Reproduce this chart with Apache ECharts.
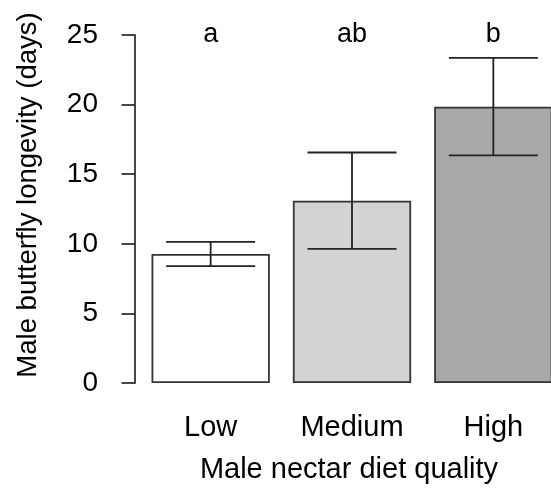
<!DOCTYPE html>
<html>
<head>
<meta charset="utf-8">
<script src="https://cdn.jsdelivr.net/npm/echarts@6/dist/echarts.min.js"></script>
<style>
  html, body { margin: 0; padding: 0; background: #fff; }
  #chart { width: 551px; height: 491px; }
</style>
</head>
<body>
<div id="chart"></div>
<script>
// Diet quality groups and mean male longevity (days) with standard errors
var categories = ['Low', 'Medium', 'High'];
var meanLongevity = [9.27, 13.1, 19.85];
var stdError = [0.87, 3.46, 3.5];
var groupLetters = ['a', 'ab', 'b'];
var yTicks = [0, 5, 10, 15, 20, 25];

var barColors = ['#ffffff', '#d3d3d3', '#a8a8a8'];
var FONT = '"Liberation Sans", Arial, sans-serif';
var yMin = yTicks[0], yMax = yTicks[yTicks.length - 1];

var chart = echarts.init(document.getElementById('chart'), null, { renderer: 'canvas' });

var barData = meanLongevity.map(function (v, i) {
  return { value: v, itemStyle: { color: barColors[i] } };
});
var errData = meanLongevity.map(function (v, i) {
  return [i, v - stdError[i], v + stdError[i]];
});
var letterData = groupLetters.map(function (t, i) {
  return { value: [i, yMax], letter: t };
});

var option = {
  animation: false,
  backgroundColor: '#ffffff',
  // plot area runs past the right edge, so the last bar is cut off
  grid: {
    left: 140, width: 424, top: 35, height: 348,
    containLabel: false,
    outerBoundsMode: 'none'
  },
  xAxis: {
    type: 'category',
    data: categories,
    axisLine: { show: false },
    axisTick: { show: false },
    axisLabel: { color: '#000', fontSize: 29, fontFamily: FONT, margin: 30 },
    name: 'Male nectar diet quality',
    nameLocation: 'middle',
    nameGap: 72,
    nameTextStyle: { color: '#000', fontSize: 29, fontFamily: FONT, padding: [0, 6, 0, 0] }
  },
  yAxis: {
    type: 'value',
    min: yMin,
    max: yMax,
    interval: yTicks[1] - yTicks[0],
    offset: 5,
    axisLine: { show: true, lineStyle: { color: '#333', width: 1.8 } },
    axisTick: { show: true, length: 13.5, lineStyle: { color: '#333', width: 1.8 } },
    axisLabel: { color: '#000', fontSize: 28, fontFamily: FONT, margin: 37 },
    splitLine: { show: false }
  },
  graphic: [{
    type: 'text',
    x: 28,
    y: 195,
    rotation: Math.PI / 2,
    style: {
      text: 'Male butterfly longevity (days)',
      fill: '#000',
      font: '27.5px ' + FONT,
      align: 'center',
      verticalAlign: 'middle'
    }
  }],
  series: [
    {
      type: 'bar',
      data: barData,
      barWidth: '83.7%',
      itemStyle: { borderColor: '#333', borderWidth: 1.8 },
      z: 2
    },
    {
      type: 'custom',
      data: errData,
      z: 3,
      renderItem: function (params, api) {
        var x = api.value(0);
        var pLo = api.coord([x, api.value(1)]);
        var pHi = api.coord([x, api.value(2)]);
        var half = api.size([1, 0])[0] * 0.315;
        var st = { stroke: '#222', lineWidth: 1.8 };
        return {
          type: 'group',
          children: [
            { type: 'line', shape: { x1: pHi[0], y1: pHi[1], x2: pLo[0], y2: pLo[1] }, style: st },
            { type: 'line', shape: { x1: pHi[0] - half, y1: pHi[1], x2: pHi[0] + half, y2: pHi[1] }, style: st },
            { type: 'line', shape: { x1: pLo[0] - half, y1: pLo[1], x2: pLo[0] + half, y2: pLo[1] }, style: st }
          ]
        };
      }
    },
    {
      type: 'scatter',
      data: letterData,
      symbolSize: 1,
      itemStyle: { color: 'transparent', opacity: 1 },
      z: 4,
      label: {
        show: true,
        position: 'inside',
        offset: [0, 0],
        color: '#000',
        opacity: 1,
        fontSize: 27,
        fontFamily: FONT,
        formatter: function (p) { return p.data.letter; }
      }
    }
  ]
};

chart.setOption(option);
</script>
</body>
</html>
